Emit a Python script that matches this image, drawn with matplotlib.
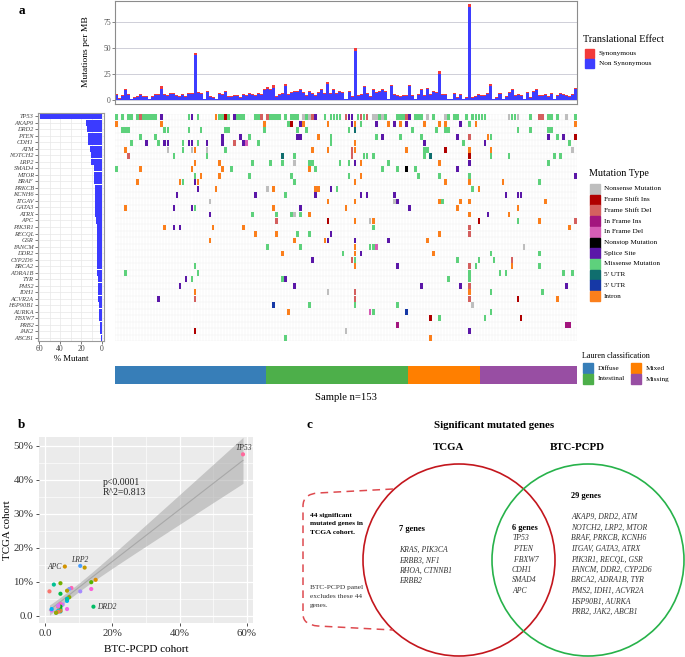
import numpy as np
import matplotlib
matplotlib.use('Agg')
import matplotlib.pyplot as plt
from matplotlib.colors import ListedColormap
from matplotlib.patches import Circle, Rectangle, PathPatch
from matplotlib.path import Path

plt.rcParams['font.family'] = ['Liberation Serif', 'DejaVu Serif']

# ---------------- data ----------------
n_samples = 153

genes = ['TP53', 'AKAP9', 'DRD2', 'PTEN', 'CDH1', 'ATM', 'NOTCH2', 'LRP2', 'SMAD4', 'MTOR',
         'BRAF', 'PRKCB', 'KCNH6', 'ITGAV', 'GATA3', 'ATRX', 'APC', 'PIK3R1', 'RECQL', 'GSR',
         'FANCM', 'DDR2', 'CYP2D6', 'BRCA2', 'ADRA1B', 'TYR', 'PMS2', 'IDH1', 'ACVR2A', 'HSP90B1',
         'AURKA', 'FBXW7', 'PRB2', 'JAK2', 'ABCB1']

# sample index + mutation code, one string per gene
# N nonsense, F fs ins, D fs del, i inframe ins, d inframe del, X nonstop,
# S splice, M missense, U 5'UTR, T 3'UTR, I intron
mutations = [
    '0M 2M 4M 5M 7M 8D 9M 10M 11M 12M 13M 15S 24M 25S 27M 33I 34M 35M 36F 37M 39S 40M 41M 42M 46M 47M '
    '48D 50D 51M 52M 53M 54M 56M 58M 59M 60M 62N 63M 64N 65D 66S 69M 71M 72M 73M 74M 76D 77S 78S 80M '
    '81D 82M 83D 85N 86N 87M 88N 89M 93M 94M 95M 96D 97S 99M 100M 101M 103N 105M 109N 110M 112M 113M '
    '116M 118M 119M 120M 121M 122M 130N 131M 132M 133N 137M 140D 141D 143M 144M 146M 149N 152M',
    '0I 15I 49I 57M 58F 61S 62I 70I 78S 79I 81M 86S 90I 92S 94I 96S 102I 107I 109I 114S 117M 119I 152I',
    '2M 3M 4M 16M 17M 24M 28M 36M 37M 49M 60M 63M 77M 79U 98M 106M 109M 110M 133M 137M 143M 144M',
    '8M 13M 35S 41S 44M 60S 61S 67I 71M 86M 88S 94M 101M 113S 117D 123I 124M 143S 146M 148S 152F',
    '5M 10S 14M 16S 17S 22M 24S 25S 27M 30S 35S 39D 42S 43d 47M 71M 79I 102S 115M 122S 150M',
    '3I 17N 22M 25N 26I 30N 36M 65I 70I 78D 79I 96I 102M 103M 109F 117I 124I 151N',
    '4D 19M 30M 55U 59M 78D 82M 83M 85M 102M 104U 117F 124M 130M 145M 147M',
    '26I 34I 45M 51M 55M 59N 64M 65M 74M 77M 79S 81I 90M 107I 117S 143M',
    '0M 8I 25I 35I 38M 64I 66M 88M 93M 96X 99M 113S',
    '26M 28I 34I 44M 58M 77M 81I 100M 107M 117M 152S',
    '7I 21I 22M 26S 27I 59M 79I 109I 117I 128I 140M',
    '27S 33I 50N 52I 66I 67I 71S 73M 118M 120I',
    '20S 46S 56M 66S 81S 83S 92S 129S 133S 134S',
    '31N 70I 79I 92N 93S 107I 108M 114I 117I 142I',
    '3I 19S 25S 26M 52I 61S 76I 97S 113I 133I',
    '31S 45M 53M 58M 59N 61M 64I 117I 123S 130I',
    '53D 70F 79I 84N 85I 120F 133M 140I 152D',
    '16I 19S 21S 32I 42I 85M 117D 150I',
    '46I 53I 60M 64M 71S 107I 117D',
    '31I 59I 69I 70S 79S 90S 103I',
    '50M 61M 79I 84M 85M 86d 135N',
    '55I 75M 79I 81S 105I 124M 140M',
    '65S 78D 79M 113M 120M 125M 131D',
    '26M 79I 93S 117D 119M 131I 140M',
    '3M 27M 117M 127M 129M 148M 151M',
    '23S 25M 55M 56S 110M 117M',
    '21S 59S 101S 114S 117D 149S',
    '26I 70N 79D 117I 124M 141M',
    '14S 26D 79D 117D 133F 146I',
    '52T 64M 79M 93M 118N',
    '57I 84d 85M 96T 124M',
    '104F 107M 122M 134F',
    '93i 149i 150i',
    '26F 76N 117S',
    '56M 104I',
]

mut_types = ['Nonsense Mutation', 'Frame Shift Ins', 'Frame Shift Del', 'In Frame Ins', 'In Frame Del',
             'Nonstop Mutation', 'Splice Site', 'Missense Mutation', "5' UTR", "3' UTR", 'Intron']
mut_codes = ['N', 'F', 'D', 'i', 'd', 'X', 'S', 'M', 'U', 'T', 'I']
mut_colors = ['#BEBEBE', '#B00000', '#D4605F', '#A3157E', '#D65DB5', '#000000', '#5B17A8',
              '#5ED17C', '#0F6E6E', '#1638A6', '#FB7F1C']

# tumour mutation burden per sample
nonsyn = [5, 1, 4, 9, 5, 1, 2, 3, 5, 3,
          3, 1, 3, 5, 5, 10, 5, 4, 6, 6,
          4, 3, 5, 3, 6, 6, 43, 7, 6, 1,
          8, 3, 2, 1, 6, 5, 8, 3, 3, 4,
          4, 2, 5, 4, 6, 5, 4, 6, 5, 9,
          10, 9, 11, 3, 5, 6, 13, 5, 7, 8,
          8, 9, 7, 4, 8, 6, 4, 7, 9, 6,
          15, 6, 9, 6, 8, 7, 1, 8, 3, 47,
          4, 5, 12, 6, 3, 9, 7, 8, 9, 8,
          1, 13, 5, 4, 3, 4, 4, 13, 4, 1,
          5, 9, 4, 10, 5, 8, 7, 25, 5, 5,
          1, 1, 6, 2, 5, 1, 2, 89, 2, 3,
          5, 4, 4, 6, 13, 1, 2, 6, 1, 3,
          7, 9, 4, 5, 4, 1, 7, 2, 8, 9,
          4, 4, 5, 3, 6, 1, 4, 6, 5, 4,
          3, 5, 10]
syn = [0.6, 0.3, 0.5, 1.2, 0.6, 0.2, 0.3, 0.4, 0.8, 0.4,
       0.5, 0.2, 0.4, 0.6, 0.5, 3.0, 0.6, 0.5, 0.8, 0.6,
       0.5, 0.4, 0.6, 0.4, 0.7, 0.8, 1.8, 0.9, 0.7, 0.2,
       0.9, 0.4, 0.3, 0.2, 0.7, 0.6, 0.9, 0.4, 0.4, 0.5,
       0.5, 0.3, 0.6, 0.5, 0.7, 0.6, 0.5, 0.8, 0.6, 1.0,
       2.0, 1.0, 3.0, 0.4, 0.6, 0.7, 2.0, 0.6, 0.8, 0.9,
       0.9, 1.0, 0.8, 0.5, 0.9, 0.7, 0.5, 0.8, 1.0, 0.7,
       2.0, 0.7, 1.0, 0.7, 0.9, 0.8, 0.2, 0.9, 0.4, 3.2,
       0.5, 0.6, 1.2, 0.7, 0.4, 1.0, 0.8, 0.9, 1.0, 0.9,
       0.2, 1.2, 0.6, 0.5, 0.4, 0.5, 0.5, 1.5, 0.5, 0.2,
       0.6, 1.0, 0.5, 1.2, 0.6, 0.9, 0.8, 3.0, 0.6, 0.6,
       0.2, 0.2, 0.7, 0.3, 0.6, 0.2, 0.3, 3.2, 0.3, 0.4,
       0.6, 0.5, 0.5, 0.7, 2.0, 0.2, 0.3, 0.7, 0.2, 0.4,
       0.8, 1.0, 0.5, 0.6, 0.5, 0.2, 0.8, 0.3, 0.9, 1.0,
       0.5, 0.5, 0.6, 0.4, 0.7, 0.2, 0.5, 0.7, 0.6, 0.5,
       0.4, 0.6, 1.0]

lauren_names = ['Diffuse', 'Intestinal', 'Mixed', 'Missing']
lauren_counts = [50, 47, 24, 32]
lauren_colors = ['#377EB8', '#4DAF4A', '#FF7F00', '#984EA3']

# TCGA frequency (%) of the same genes, for panel b
tcga_pct = [47.5, 10.6, 2.7, 7.9, 9.9, 14.2, 7.2, 14.7, 8.2, 7.9,
            5.5, 2.0, 5.0, 4.4, 4.9, 7.4, 14.5, 3.3, 3.5, 1.3,
            2.0, 6.5, 2.7, 9.6, 1.5, 2.7, 3.0, 1.5, 1.2, 0.9,
            0.9, 9.2, 1.6, 2.0, 7.2]
labelled = ['TP53', 'APC', 'LRP2', 'DRD2']

tcga_only = ['KRAS, PIK3CA', 'ERBB3, NF1', 'RHOA, CTNNB1', 'ERBB2']
shared = ['TP53', ' PTEN', ' FBXW7', 'CDH1', 'SMAD4', 'APC']
btc_only = ['AKAP9, DRD2, ATM', 'NOTCH2, LRP2, MTOR', 'BRAF, PRKCB, KCNH6', 'ITGAV, GATA3, ATRX',
            'PIK3R1, RECQL, GSR', 'FANCM, DDR2, CYP2D6', 'BRCA2, ADRA1B, TYR', 'PMS2, IDH1, ACVR2A',
            'HSP90B1, AURKA', 'PRB2, JAK2, ABCB1']

# ---------------- helpers ----------------
W, H = 685, 657


def rect(l, t, w, h):
    return [l / W, 1 - (t + h) / H, w / W, h / H]


def hue_color(h, c=100.0, l=65.0):
    # ggplot2 style hcl colour
    hr = np.deg2rad(h)
    u, v = c * np.cos(hr), c * np.sin(hr)
    xn, yn, zn = 95.047, 100.0, 108.883
    un = 4 * xn / (xn + 15 * yn + 3 * zn)
    vn = 9 * yn / (xn + 15 * yn + 3 * zn)
    y = yn * ((l + 16) / 116) ** 3
    up = u / (13 * l) + un
    vp = v / (13 * l) + vn
    x = 9 * y * up / (4 * vp)
    z = y * (12 - 3 * up - 20 * vp) / (4 * vp)
    m = np.array([[3.2406, -1.5372, -0.4986], [-0.9689, 1.8758, 0.0415], [0.0557, -0.2040, 1.0570]])
    rgb = m @ (np.array([x, y, z]) / 100)
    rgb = np.clip(rgb, 0, None)
    rgb = np.where(rgb <= 0.0031308, 12.92 * rgb, 1.055 * rgb ** (1 / 2.4) - 0.055)
    return np.clip(rgb, 0, 1)


mat = np.zeros((len(genes), n_samples))
for g, row in enumerate(mutations):
    for tok in row.split():
        mat[g, int(tok[:-1])] = mut_codes.index(tok[-1]) + 1
counts = (mat > 0).sum(axis=1)
pct = counts / n_samples * 100

fig = plt.figure(figsize=(W / 100, H / 100), dpi=100)

# ---------------- panel a: TMB ----------------
ax_tmb = fig.add_axes(rect(115, 1, 462, 103))
xs = np.arange(n_samples)
ax_tmb.bar(xs, nonsyn, width=1.0, color='#3D3DFF', linewidth=0)
ax_tmb.bar(xs, syn, bottom=nonsyn, width=1.0, color='#F23A3A', linewidth=0)
ax_tmb.set_xlim(-0.5, n_samples - 0.5)
ax_tmb.set_ylim(-4, 95)
ax_tmb.set_yticks([0, 25, 50, 75])
ax_tmb.set_xticks([])
ax_tmb.tick_params(axis='y', labelsize=5.5, length=2, width=0.5, pad=1, colors='#555555')
ax_tmb.grid(axis='y', color='#CFCFD8', lw=0.7)
ax_tmb.set_axisbelow(True)
for s in ax_tmb.spines.values():
    s.set_color('#8C8C8C')
    s.set_linewidth(0.8)

# ---------------- panel a: oncoplot ----------------
ax_onc = fig.add_axes(rect(115, 114, 462, 227))
for b in np.arange(n_samples + 1) - 0.5:
    ax_onc.axvline(b, color='#EFEFEF', lw=0.3, zorder=0)
for b in np.arange(len(genes) + 1) - 0.5:
    ax_onc.axhline(b, color='#EFEFEF', lw=0.3, zorder=0)
rows, cols_idx = np.nonzero(mat)
for k, col in enumerate(mut_colors):
    sel = mat[rows, cols_idx] == k + 1
    ax_onc.bar(cols_idx[sel], 0.9, bottom=rows[sel] - 0.45, width=0.88, color=col, linewidth=0, zorder=2)
ax_onc.set_xlim(-0.5, n_samples - 0.5)
ax_onc.set_ylim(len(genes) - 0.5, -0.5)
ax_onc.axis('off')

# ---------------- panel a: % mutant ----------------
ax_pct = fig.add_axes(rect(38, 113, 66, 228))
ax_pct.barh(np.arange(len(genes)), pct, height=0.95, color='#3B3BFF', linewidth=0)
ax_pct.set_ylim(len(genes) - 0.5, -0.5)
ax_pct.set_xlim(61, -1.9)
ax_pct.set_xticks([60, 40, 20, 0])
ax_pct.set_xticks([50, 30, 10], minor=True)
ax_pct.set_yticks(np.arange(len(genes)))
ax_pct.set_yticklabels(genes, fontstyle='italic', fontsize=4.6)
ax_pct.tick_params(axis='x', labelsize=5.5, length=2, width=0.5, pad=1, colors='#444444')
ax_pct.tick_params(axis='x', which='minor', length=0)
ax_pct.tick_params(axis='y', length=2, width=0.5, pad=1, colors='#444444')
ax_pct.grid(True, which='both', color='#E8E8E8', lw=0.5)
ax_pct.set_axisbelow(True)
for s in ax_pct.spines.values():
    s.set_color('#9A9A9A')
    s.set_linewidth(0.8)

# ---------------- panel a: Lauren bar ----------------
ax_lau = fig.add_axes(rect(115, 366, 462, 18))
lau = np.repeat(np.arange(len(lauren_names)), lauren_counts)[None, :]
ax_lau.pcolormesh(np.arange(n_samples + 1) - 0.5, [0, 1], lau, cmap=ListedColormap(lauren_colors),
                  vmin=-0.5, vmax=len(lauren_names) - 0.5)
ax_lau.set_xlim(-0.5, n_samples - 0.5)
ax_lau.axis('off')

# ---------------- panel b: scatter ----------------
ax_sc = fig.add_axes(rect(39, 437, 214, 186))
ax_sc.set_facecolor('#EBEBEB')
x = pct
y = np.array(tcga_pct)
slope, icpt = np.polyfit(x, y, 1)
xx = np.linspace(x.min(), x.max(), 80)
resid = y - (slope * x + icpt)
s_err = np.sqrt((resid ** 2).sum() / (len(x) - 2))
se = s_err * np.sqrt(1 / len(x) + (xx - x.mean()) ** 2 / ((x - x.mean()) ** 2).sum())
fit = slope * xx + icpt
ax_sc.fill_between(xx, fit - 2.035 * se, fit + 2.035 * se, color='#A6A6A6', alpha=0.55, lw=0, zorder=2)
ax_sc.plot(xx, fit, color='#A8A8A8', lw=0.8, zorder=3)
alpha_order = sorted(genes)
cols = [hue_color(15 + 360 * alpha_order.index(g) / len(genes)) for g in genes]
ax_sc.scatter(x, y, s=9, c=cols, linewidths=0, zorder=4)
offs = {'TP53': (1, 6, 'center'), 'APC': (-3, 0, 'right'), 'LRP2': (0, 6, 'center'), 'DRD2': (4, 0, 'left')}
for g in labelled:
    k = genes.index(g)
    dx, dy, ha = offs[g]
    ax_sc.annotate(g, (x[k], y[k]), xytext=(dx * 0.72, dy * 0.72), textcoords='offset points',
                   ha=ha, va='center', fontsize=5.5, fontstyle='italic', color='#333333')
ax_sc.text(17.2, 39.1, 'p<0.0001', fontsize=7, va='center', color='#222222')
ax_sc.text(17.2, 36.2, 'R^2=0.813', fontsize=7, va='center', color='#222222')
ax_sc.set_xlim(-1.8, 61.8)
ax_sc.set_ylim(-2.1, 52.6)
ax_sc.set_xticks([0, 20, 40, 60])
ax_sc.set_xticklabels(['0.0', '20%', '40%', '60%'])
ax_sc.set_xticks([10, 30, 50], minor=True)
ax_sc.set_yticks([0, 10, 20, 30, 40, 50])
ax_sc.set_yticklabels(['0.0', '10%', '20%', '30%', '40%', '50%'])
ax_sc.set_yticks([5, 15, 25, 35, 45], minor=True)
ax_sc.grid(True, which='major', color='white', lw=0.9)
ax_sc.grid(True, which='minor', color='white', lw=0.45)
ax_sc.set_axisbelow(True)
ax_sc.tick_params(which='major', labelsize=7.8, length=2.5, width=0.6, colors='#333333', pad=1.5)
ax_sc.tick_params(which='minor', length=0)
for s in ax_sc.spines.values():
    s.set_visible(False)
ax_sc.set_xlabel('BTC-PCPD cohort', fontsize=8, labelpad=5)
ax_sc.set_ylabel('TCGA cohort', fontsize=7.8, labelpad=1)

# ---------------- overlay: labels, legends, venn ----------------
ov = fig.add_axes([0, 0, 1, 1])
ov.set_xlim(0, W)
ov.set_ylim(H, 0)
ov.axis('off')

for lab, (lx, ly) in zip(['a', 'b', 'c'], [(22, 11), (22, 425), (309, 425)]):
    ov.text(lx, ly, lab, fontsize=9.5, fontweight='bold', ha='center', va='center')

ov.text(86, 52, 'Mutations per MB', fontsize=6.8, rotation=90, ha='center', va='center')
ov.text(71, 359, '% Mutant', fontsize=6.2, ha='center', va='center')
ov.text(346, 398, 'Sample n=153', fontsize=7.7, ha='center', va='center')

# translational effect legend
ov.text(583, 40, 'Translational Effect', fontsize=7.3, va='center')
for k, (name, col) in enumerate(zip(['Synonymous', 'Non Synonymous'], ['#F23A3A', '#3D3DFF'])):
    ov.add_patch(Rectangle((585, 49 + 9.5 * k), 9, 9, color=col))
    ov.text(599, 53.5 + 9.5 * k, name, fontsize=5.2, va='center')

# mutation type legend
ov.text(589, 174, 'Mutation Type', fontsize=7.3, va='center')
for k, (name, col) in enumerate(zip(mut_types, mut_colors)):
    yy = 189 + 10.7 * k
    ov.add_patch(Rectangle((590, yy - 5), 10, 10, color=col))
    ov.text(604, yy, name, fontsize=5.2, va='center')

# lauren legend
ov.text(582, 356, 'Lauren classification', fontsize=5.9, va='center')
for k, (name, col) in enumerate(zip(lauren_names, lauren_colors)):
    lx = 583 + 48 * (k // 2)
    ly = 368 + 11 * (k % 2)
    ov.add_patch(Rectangle((lx, ly - 5), 10, 10, color=col))
    ov.text(lx + 15, ly, name, fontsize=5.2, va='center')

# venn diagram
ov.text(494, 426, 'Significant mutated genes', fontsize=7.8, fontweight='bold', ha='center', va='center')
ov.text(449, 448, 'TCGA', fontsize=7.8, fontweight='bold', ha='center', va='center')
ov.text(577, 448, 'BTC-PCPD', fontsize=7.8, fontweight='bold', ha='center', va='center')
ov.add_patch(Circle((459, 560), 96, fill=False, ec='#C3161D', lw=1.2))
ov.add_patch(Circle((588, 560), 96, fill=False, ec='#27B24A', lw=1.2))

verts = [(393, 489), (318, 493), (303, 494), (303, 506), (303, 614), (303, 625), (318, 626), (393, 630)]
codes = [Path.MOVETO, Path.LINETO, Path.CURVE3, Path.CURVE3, Path.LINETO, Path.CURVE3, Path.CURVE3, Path.LINETO]
ov.add_patch(PathPatch(Path(verts, codes), fill=False, ec='#DE4A4F', lw=1.1, linestyle=(0, (5, 3.5))))

ov.text(310, 515, '44 significant', fontsize=5.3, fontweight='bold', va='center')
ov.text(310, 524, 'mutated genes in', fontsize=5.3, fontweight='bold', va='center')
ov.text(310, 533, 'TCGA cohort.', fontsize=5.3, fontweight='bold', va='center')
ov.text(310, 587, 'BTC-PCPD panel', fontsize=5.3, va='center', color='#333333')
ov.text(310, 597, 'excludes these 44', fontsize=5.3, va='center', color='#333333')
ov.text(310, 606, 'genes.', fontsize=5.3, va='center', color='#333333')

ov.text(399, 529, '7 genes', fontsize=6, fontweight='bold', va='center')
for k, t in enumerate(tcga_only):
    ov.text(399, 550 + 10.4 * k, t, fontsize=5.6, fontstyle='italic', va='center', color='#333333')
ov.text(512, 528, '6 genes', fontsize=6, fontweight='bold', va='center')
for k, t in enumerate(shared):
    ov.text(512, 538.5 + 10.5 * k, t, fontsize=5.6, fontstyle='italic', va='center', color='#333333')
ov.text(571, 496, '29 genes', fontsize=6, fontweight='bold', va='center')
for k, t in enumerate(btc_only):
    ov.text(571, 517 + 10.55 * k, t, fontsize=5.6, fontstyle='italic', va='center', color='#333333')

fig.savefig('out.png', dpi=100)
